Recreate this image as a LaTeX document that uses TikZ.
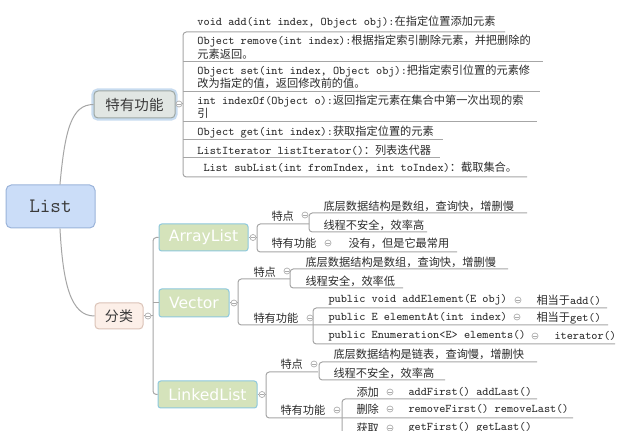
\documentclass[tikz,border=0pt]{standalone}
\usepackage{fontspec}
\newfontfamily\zhfont[Scale=0.955]{Noto Sans CJK SC}
\newfontfamily\boxfont{DejaVu Sans}
\newcommand{\zh}[1]{{\zhfont #1}}

\definecolor{rootfill}{HTML}{CBDDF8}
\definecolor{rootborder}{HTML}{9BB4DA}
\definecolor{tygfill}{HTML}{E1E6E3}
\definecolor{tygborder}{HTML}{9DA7A3}
\definecolor{haloblue}{HTML}{C8DCF0}
\definecolor{flfill}{HTML}{FCEFE8}
\definecolor{flborder}{HTML}{DBC3B7}
\definecolor{kindfill}{HTML}{D5E3BB}
\definecolor{kindborder}{HTML}{8DC8DD}
\definecolor{linegray}{HTML}{A6A6A6}
\definecolor{foldgray}{HTML}{ABABAB}
\definecolor{leaftext}{HTML}{2B2B2B}
\definecolor{toptext}{HTML}{3A3A3A}

\tikzset{every picture/.style={line width=0.75pt}}
\tikzset{
  conn/.style={draw=linegray, line width=0.75pt, rounded corners=2.5pt},
  foldmark/.style={circle, draw=foldgray, fill=white, inner sep=0pt, minimum size=4.5pt, line width=0.5pt,
    path picture={\draw[foldgray, line width=0.5pt] ([xshift=-1.2pt]path picture bounding box.center) -- ([xshift=1.2pt]path picture bounding box.center);}},
  leaftext/.style={anchor=west, inner sep=0.75pt, text=leaftext, align=left, font=\ttfamily\fontsize{8.8}{8.25}\selectfont},
  topicbox/.style={rounded corners=3pt, inner sep=0pt, text=toptext},
  kindbox/.style={draw=kindborder, fill=kindfill, rounded corners=2pt, inner sep=0pt, minimum height=20.25pt, text=white, font=\boxfont\fontsize{11.7}{14}\selectfont},
}

\begin{document}
\begin{tikzpicture}[x=0.75pt,y=0.75pt,yscale=-1,xscale=1]
    \useasboundingbox (0,0) rectangle (619,431);
    \fill [white] (0,0) rectangle (619,431);

    %Shape: Topics
    \node [topicbox, draw=rootborder, fill=rootfill, rounded corners=4pt, minimum width=66.75pt, minimum height=32.25pt, font=\ttfamily\fontsize{15.4}{18}\selectfont] (list) at (50.5,206.5) {List};
    \node [topicbox, draw=tygborder, fill=tygfill, preaction={draw=haloblue, line width=4pt}, minimum width=60.75pt, minimum height=20.25pt, font=\zhfont\fontsize{11.4}{13}\selectfont] (tyg) at (134.5,104.5) {特有功能};
    \node [topicbox, draw=flborder, fill=flfill, minimum width=36pt, minimum height=19.5pt, font=\zhfont\fontsize{11}{13}\selectfont] (fl) at (119,316) {分类};

    %Curves: List to its branches
    \draw [conn] ([xshift=7.1pt]list.north) .. controls +(5,-55) and +(-22,0) .. (tyg.west);
    \draw [conn] ([xshift=7.1pt]list.south) .. controls +(3,55) and +(-24,0) .. (fl.west);

    %Straight Lines: methods of List
    \node [foldmark] (f1) at (179,104) {};
    \draw [conn] (f1.east) -- (183,104);
    \draw [conn] (505,32) -- (183,32) -- (183,177) -- (527,177);
    \draw [conn] (183,62) -- (543,62);
    \draw [conn] (183,92) -- (540,92);
    \draw [conn] (183,122) -- (537,122);
    \draw [conn] (183,140) -- (443,140);
    \draw [conn] (183,158) -- (440,158);

    % Text Node
    \node [leaftext] (t1) at (196,22) {void add(int index, Object obj):\zh{在指定位置添加元素}};
    \node [leaftext] (t2) at (196,47) {Object remove(int index):\zh{根据指定索引删除元素，并把删除的}\\\zh{元素返回。}};
    \node [leaftext] (t3) at (196,77) {Object set(int index, Object obj):\zh{把指定索引位置的元素修}\\\zh{改为指定的值，返回修改前的值。}};
    \node [leaftext] (t4) at (196,107) {int indexOf(Object o):\zh{返回指定元素在集合中第一次出现的索}\\\zh{引}};
    \node [leaftext] (t5) at (196,132) {Object get(int index):\zh{获取指定位置的元素}};
    \node [leaftext] (t6) at (196,150) {ListIterator listIterator()\zh{：列表迭代器}};
    \node [leaftext] (t7) at (202,168) {List subList(int fromIndex, int toIndex)\zh{：截取集合。}};

    %Shape: Kinds
    \node [kindbox, minimum width=66.75pt] (al) at (203.5,237.5) {ArrayList};
    \node [kindbox, minimum width=52.5pt, minimum height=21pt] (vc) at (194,303) {Vector};
    \node [kindbox, minimum width=74.25pt] (ll) at (207.5,394.5) {LinkedList};

    \node [foldmark] (f2) at (148,316) {};
    \draw [conn] (fl.east) -- (f2.west);
    \draw [conn] (f2.east) -- (153,316);
    \draw [conn] (al.west) -- (153,237.5) -- (153,394.5) -- (ll.west);
    \draw [conn] (153,303) -- (vc.west);

    %Straight Lines: ArrayList
    \node [foldmark] (f3) at (253,237.5) {};
    \draw [conn] (al.east) -- (f3.west);
    \draw [conn] (f3.east) -- (257,237.5);
    \draw [conn] (309,224) -- (257,224) -- (257,252) -- (457,252);
    \draw [conn] (527,213) -- (309,213) -- (309,232) -- (427,232);
    \node [foldmark] (a1f) at (305,215) {};
    \node [foldmark] (a2f) at (328,243) {};

    \node [leaftext] (a1) at (270,216) {\zh{特点}};
    \node [leaftext] (a11) at (322,206) {\zh{底层数据结构是数组，查询快，增删慢}};
    \node [leaftext] (a12) at (322,225) {\zh{线程不安全，效率高}};
    \node [leaftext] (a2) at (270,243) {\zh{特有功能}};
    \node [leaftext] (a21) at (347,243) {\zh{没有，但是它最常用}};

    %Straight Lines: Vector
    \node [foldmark] (f4) at (234,303) {};
    \draw [conn] (vc.east) -- (f4.west);
    \draw [conn] (f4.east) -- (238,303);
    \draw [conn] (290,279) -- (238,279) -- (238,325) -- (608,325);
    \draw [conn] (508,269) -- (290,269) -- (290,288) -- (403,288);
    \draw [conn] (607,308) -- (313,308) -- (313,344) -- (615,344);
    \node [foldmark] (v1f) at (287,271) {};
    \node [foldmark] (v2f) at (310,318) {};

    \node [leaftext] (v1) at (252,272) {\zh{特点}};
    \node [leaftext] (v11) at (304,262) {\zh{底层数据结构是数组，查询快，增删慢}};
    \node [leaftext] (v12) at (304,281) {\zh{线程安全，效率低}};
    \node [leaftext] (v2) at (252,318) {\zh{特有功能}};
    \node [leaftext] (v21) at (327,300) {public void addElement(E obj)};
    \node [foldmark] (v21f) at (518,300) {};
    \node [leaftext] (v21a) at (535,300) {\zh{相当于}add()};
    \node [leaftext] (v22) at (327,318) {public E elementAt(int index)};
    \node [foldmark] (v22f) at (517,317) {};
    \node [leaftext] (v22a) at (535,318) {\zh{相当于}get()};
    \node [leaftext] (v23) at (327,336) {public Enumeration<E> elements()};
    \node [foldmark] (v23f) at (535,336) {};
    \node [leaftext] (v23a) at (553,336) {iterator()};

    %Straight Lines: LinkedList
    \node [foldmark] (f5) at (262,394.5) {};
    \draw [conn] (ll.east) -- (f5.west);
    \draw [conn] (f5.east) -- (266,394.5);
    \draw [conn] (318,372) -- (266,372) -- (266,418) -- (573,418);
    \draw [conn] (537,362) -- (319,362) -- (319,380) -- (445,380);
    \draw [conn] (537,399) -- (342,399) -- (342,445);
    \draw [conn] (342,436) -- (537,436);
    \node [foldmark] (l1f) at (314,364) {};
    \node [foldmark] (l2f) at (337,410) {};

    \node [leaftext] (l1) at (279,364) {\zh{特点}};
    \node [leaftext] (l11) at (332,354) {\zh{底层数据结构是链表，查询慢，增删快}};
    \node [leaftext] (l12) at (332,373) {\zh{线程不安全，效率高}};
    \node [leaftext] (l2) at (279,410) {\zh{特有功能}};
    \node [leaftext] (l21) at (355,392) {\zh{添加}};
    \node [foldmark] (l21f) at (390,392) {};
    \node [leaftext] (l21a) at (407,392) {addFirst() addLast()};
    \node [leaftext] (l22) at (355,409) {\zh{删除}};
    \node [foldmark] (l22f) at (390,409) {};
    \node [leaftext] (l22a) at (407,409) {removeFirst() removeLast()};
    \node [leaftext] (l23) at (355,428) {\zh{获取}};
    \node [foldmark] (l23f) at (390,428) {};
    \node [leaftext] (l23a) at (407,428) {getFirst() getLast()};

\end{tikzpicture}
\end{document}
